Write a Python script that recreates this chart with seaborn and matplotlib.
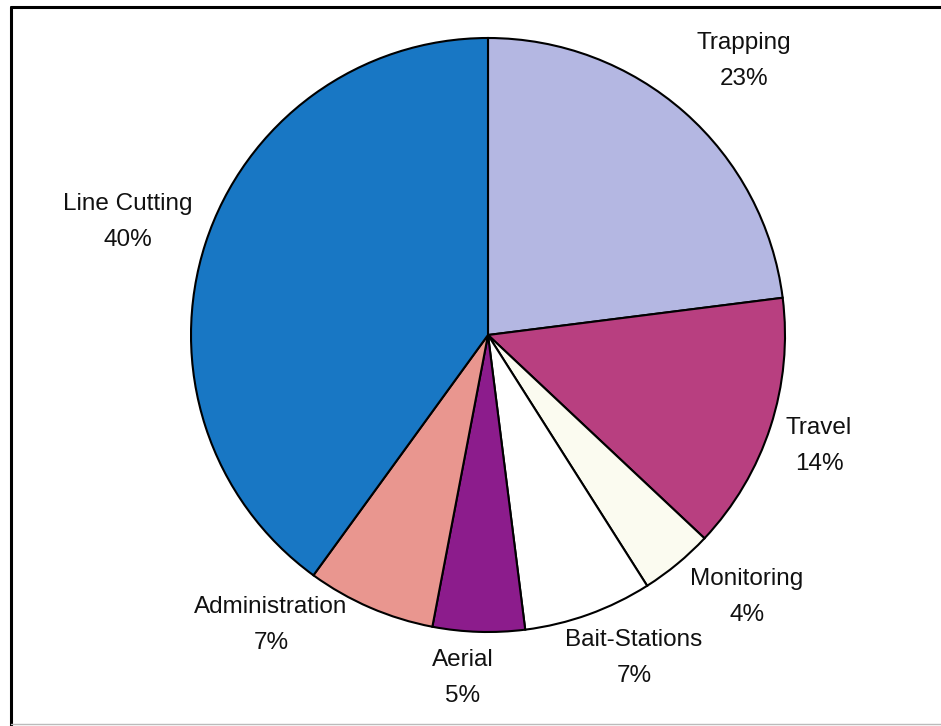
import matplotlib
matplotlib.use("Agg")
import matplotlib.pyplot as plt
import seaborn as sns
from matplotlib.lines import Line2D

# Data (clockwise from 12 o'clock)
categories = ["Trapping", "Travel", "Monitoring", "Bait-Stations", "Aerial",
              "Administration", "Line Cutting"]
percentages = [23, 14, 4, 7, 5, 7, 40]
colors = ["#b4b7e2", "#b83f80", "#fbfbf0", "#ffffff", "#8c1c8c",
          "#e9968f", "#1877c4"]

# Label layout (pixel centres, from top-left)
label_pos = [(744, 61), (819, 446), (747, 597), (634, 658), (463, 678),
             (271, 625), (128, 222)]

sns.set_theme(style="white")
plt.rcParams['font.family'] = ['Liberation Sans', 'DejaVu Sans']

W, H = 941, 726
fig = plt.figure(figsize=(W / 100, H / 100), dpi=100)
fig.patch.set_facecolor("white")
ax = fig.add_axes([0, 0, 1, 1])

ax.pie(percentages, colors=colors, startangle=90, counterclock=False,
       center=(488, H - 335), radius=297,
       wedgeprops=dict(edgecolor="black", linewidth=1.5))

for name, pct, (x, y) in zip(categories, percentages, label_pos):
    ax.text(x, H - y, f"{name}\n{pct}%", ha="center", va="center",
            fontsize=17.5, color="#111111", linespacing=1.78)

ax.set_xlim(0, W)
ax.set_ylim(0, H)
ax.set_aspect("equal")
ax.axis("off")

# Frame lines
fig.add_artist(Line2D([11 / W, 11 / W], [0, 1 - 7 / H], transform=fig.transFigure,
                      color="black", linewidth=2.2))
fig.add_artist(Line2D([11 / W, 1], [1 - 7 / H, 1 - 7 / H], transform=fig.transFigure,
                      color="black", linewidth=2.2))
fig.add_artist(Line2D([11 / W, 1], [2 / H, 2 / H], transform=fig.transFigure,
                      color="#bbbbbb", linewidth=1.0))

fig.savefig("out.png", dpi=100, facecolor="white")
